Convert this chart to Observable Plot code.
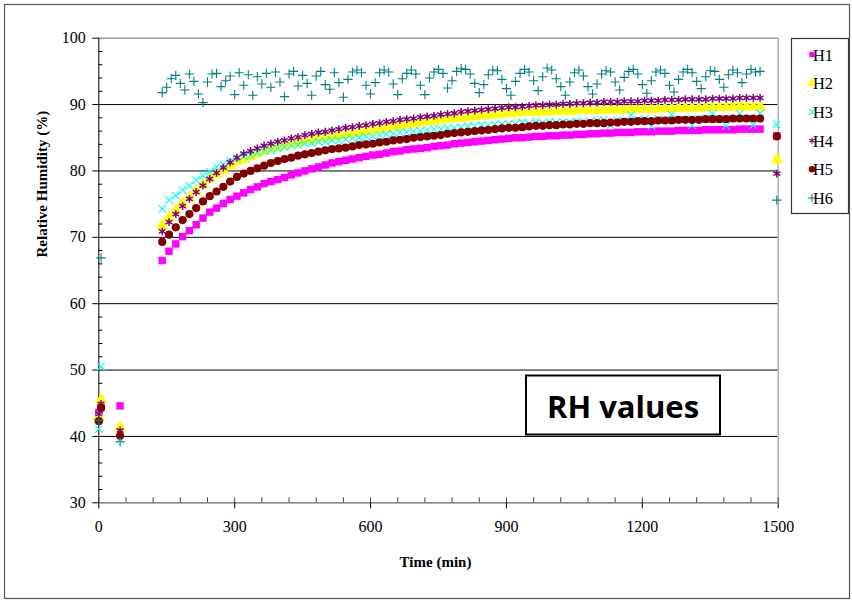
<!DOCTYPE html>
<html><head><meta charset="utf-8">
<script src="https://cdn.jsdelivr.net/npm/d3@7"></script>
<script src="https://cdn.jsdelivr.net/npm/@observablehq/plot@0.6"></script>
<style>body{margin:0;background:#fff}#chart{width:852px;height:603px}</style>
</head><body><div id="chart"></div>
<script>
const seriesNames = ["H1","H2","H3","H4","H5","H6"];
const seriesColors = ["#FF00FF","#FFFF00","#00FFFF","#800080","#800000","#008080"];
const seriesSymbols = ["square","triangle","times","asterisk","circle","plus"];

const yTicks = [30,40,50,60,70,80,90,100];
const yMinor = [32,34,36,38,42,44,46,48,52,54,56,58,62,64,66,68,72,74,76,78,82,84,86,88,92,94,96,98];
const gridVals = [40,50,60,70,80,90];
const xTicks = [0,300,600,900,1200,1500];
const xMinor = [0,60,120,180,240,300,360,420,480,540,600,660,720,780,840,900,960,1020,1080,1140,1200,1260,1320,1380,1440,1500];

// early readings
const earlyTimes = [0,5,47];
const earlyH1 = [43.6,44.4,44.6];
const earlyH2 = [43.0,45.5,41.4];
const earlyH3 = [41.1,50.5,39.6];
const earlyH4 = [43.4,44.9,40.9];
const earlyH5 = [42.3,44.3,40.1];
const earlyH6 = [42.4,66.9,39.2];
// final reading
const lateTime = 1497;
const lateValues = [85.3,81.7,87.0,79.6,85.2,75.6];

const times15 = [140,155,170,185,200,215,230,245,260,275,
290,305,320,335,350,365,380,395,410,425,
440,455,470,485,500,515,530,545,560,575,
590,605,620,635,650,665,680,695,710,725,
740,755,770,785,800,815,830,845,860,875,
890,905,920,935,950,965,980,995,1010,1025,
1040,1055,1070,1085,1100,1115,1130,1145,1160,1175,
1190,1205,1220,1235,1250,1265,1280,1295,1310,1325,
1340,1355,1370,1385,1400,1415,1430,1445,1460];

const H1 = [66.5,67.9,69.0,70.1,71.0,71.9,72.9,73.8,74.4,75.1,
75.7,76.2,76.7,77.2,77.6,78.1,78.4,78.7,79.0,79.4,
79.7,80.0,80.3,80.6,80.9,81.2,81.4,81.6,81.8,82.0,
82.2,82.4,82.5,82.7,82.9,83.0,83.2,83.3,83.4,83.5,
83.7,83.8,83.9,84.1,84.2,84.3,84.4,84.5,84.6,84.7,
84.8,84.9,85.0,85.0,85.1,85.2,85.2,85.3,85.3,85.4,
85.4,85.5,85.5,85.6,85.6,85.7,85.7,85.8,85.8,85.8,
85.9,85.9,85.9,86.0,86.0,86.0,86.1,86.1,86.1,86.1,
86.2,86.2,86.2,86.2,86.2,86.3,86.3,86.3,86.3];
const H2 = [71.8,73.0,74.0,75.1,76.0,76.9,77.9,78.8,79.5,80.1,
80.8,81.4,81.8,82.2,82.6,83.0,83.3,83.6,83.8,84.1,
84.3,84.5,84.7,84.9,85.0,85.2,85.3,85.4,85.6,85.8,
86.0,86.1,86.3,86.5,86.7,86.8,87.0,87.1,87.3,87.4,
87.5,87.7,87.8,87.9,88.0,88.1,88.2,88.3,88.4,88.5,
88.6,88.7,88.7,88.8,88.8,88.9,88.9,88.9,89.0,89.0,
89.0,89.1,89.1,89.1,89.1,89.2,89.2,89.2,89.2,89.3,
89.3,89.3,89.3,89.4,89.4,89.4,89.5,89.5,89.5,89.5,
89.6,89.6,89.6,89.6,89.7,89.7,89.7,89.7,89.7];
const H3 = [74.3,75.6,76.3,77.1,77.8,78.6,79.3,79.9,80.6,81.0,
81.5,81.9,82.2,82.4,82.8,83.0,83.1,83.4,83.6,83.8,
83.9,84.1,84.2,84.4,84.4,84.6,84.6,84.8,84.9,85.0,
85.2,85.2,85.4,85.5,85.6,85.8,85.8,86.0,86.0,86.2,
86.3,86.3,86.5,86.5,86.6,86.7,86.7,86.9,86.8,87.0,
87.0,87.1,87.1,87.3,87.1,87.3,87.2,87.4,87.3,87.4,
87.3,87.5,87.4,87.5,87.5,87.7,86.9,87.6,87.5,88.4,
87.6,87.8,86.8,87.8,87.7,88.5,87.7,87.8,86.9,87.9,
87.8,88.6,87.8,86.8,87.8,88.6,87.9,86.9,88.7];
const H4 = [70.9,72.3,73.5,74.7,75.8,76.8,77.8,78.8,79.7,80.5,
81.3,82.0,82.6,83.0,83.4,83.8,84.1,84.4,84.6,84.9,
85.1,85.4,85.6,85.8,85.9,86.1,86.3,86.5,86.6,86.8,
86.9,87.1,87.2,87.4,87.5,87.7,87.8,87.9,88.1,88.2,
88.3,88.5,88.6,88.7,88.9,89.0,89.1,89.2,89.3,89.4,
89.5,89.6,89.6,89.7,89.8,89.9,89.9,90.0,90.0,90.1,
90.1,90.2,90.2,90.3,90.3,90.4,90.4,90.4,90.5,90.5,
90.5,90.6,90.6,90.6,90.7,90.7,90.7,90.8,90.8,90.8,
90.8,90.9,90.9,90.9,90.9,91.0,91.0,91.0,91.0];
const H5 = [69.3,70.4,71.5,72.6,73.5,74.4,75.4,76.2,76.9,77.6,
78.4,79.1,79.6,80.0,80.4,80.8,81.2,81.5,81.8,82.0,
82.3,82.5,82.7,82.9,83.1,83.3,83.4,83.5,83.7,83.9,
84.0,84.1,84.3,84.4,84.6,84.7,84.8,85.0,85.1,85.2,
85.3,85.4,85.6,85.7,85.8,85.9,86.0,86.1,86.2,86.3,
86.4,86.5,86.5,86.6,86.7,86.8,86.8,86.9,86.9,87.0,
87.0,87.1,87.1,87.2,87.2,87.2,87.3,87.3,87.4,87.4,
87.5,87.5,87.5,87.6,87.6,87.6,87.7,87.7,87.7,87.7,
87.8,87.8,87.8,87.8,87.9,87.9,87.9,87.9,87.9];

const times10 = [140,150,160,170,180,190,200,210,220,230,
240,250,260,270,280,290,300,310,320,330,
340,350,360,370,380,390,400,410,420,430,
440,450,460,470,480,490,500,510,520,530,
540,550,560,570,580,590,600,610,620,630,
640,650,660,670,680,690,700,710,720,730,
740,750,760,770,780,790,800,810,820,830,
840,850,860,870,880,890,900,910,920,930,
940,950,960,970,980,990,1000,1010,1020,1030,
1040,1050,1060,1070,1080,1090,1100,1110,1120,1130,
1140,1150,1160,1170,1180,1190,1200,1210,1220,1230,
1240,1250,1260,1270,1280,1290,1300,1310,1320,1330,
1340,1350,1360,1370,1380,1390,1400,1410,1420,1430,
1440,1450,1460];
const H6 = [91.8,92.6,93.9,94.4,93.2,92.2,94.6,93.5,91.6,90.3,
93.4,94.6,94.7,92.7,93.6,94.3,91.5,94.8,92.9,94.5,
91.4,94.2,93.1,94.7,92.6,94.9,93.4,91.2,94.6,95.0,
92.8,94.4,93.2,91.4,94.3,95.0,93.0,92.3,94.8,93.3,
91.1,93.8,94.9,95.2,94.8,92.9,91.6,93.3,94.8,95.2,
94.9,93.1,91.5,93.9,94.7,95.2,94.6,92.9,91.5,94.0,
94.9,95.3,94.7,92.5,93.6,95.0,95.4,95.3,94.6,93.2,
91.8,93.0,94.5,95.2,95.1,93.8,92.4,91.4,93.5,94.7,
95.3,94.9,93.6,92.1,94.2,95.5,95.2,93.9,92.7,91.4,
93.4,94.8,95.2,94.3,92.7,91.6,93.1,94.6,95.1,94.9,
93.4,92.2,94.1,95.0,95.3,94.6,93.0,91.7,93.6,94.9,
95.2,94.7,92.9,91.9,93.8,94.9,95.3,94.8,93.5,92.4,
94.2,95.1,95.0,93.8,92.6,94.5,95.2,94.8,93.3,94.6,
95.3,94.9,95.0];

function rows(times, vals) {
  const n = Math.min(times.length, vals.length);
  const out = [];
  for (let i = 0; i < n; i++) out.push({t: times[i], v: vals[i]});
  return out;
}
const mainTimes = [times15, times15, times15, times15, times15, times10];
const mainVals = [H1, H2, H3, H4, H5, H6];
const earlyVals = [earlyH1, earlyH2, earlyH3, earlyH4, earlyH5, earlyH6];
const sizes = [4.2, 4.6, 3.5, 3.7, 4.1, 3.1];
const strokeWidths = [0, 0, 1.1, 1.5, 0, 1.1];

const seriesData = seriesNames.map((name, i) =>
  rows(earlyTimes, earlyVals[i])
    .concat(rows(mainTimes[i], mainVals[i]))
    .concat([{t: lateTime, v: lateValues[i]}]));

const strokeSym = new Set(["times","asterisk","plus"]);
const dotMarks = seriesNames.map((name, i) => {
  const sym = seriesSymbols[i];
  const o = {x: "t", y: "v", symbol: sym, r: sizes[i]};
  if (strokeSym.has(sym)) { o.stroke = seriesColors[i]; o.fill = "none"; o.strokeWidth = strokeWidths[i]; }
  else { o.fill = seriesColors[i]; o.stroke = "none"; }
  return Plot.dot(seriesData[i], o);
});

const serif = "'Liberation Serif', 'DejaVu Serif', serif";
const plot = Plot.plot({
  width: 852, height: 603,
  marginLeft: 98.3, marginRight: 74.3, marginTop: 37.7, marginBottom: 100.7,
  style: {fontFamily: serif, fontSize: "16px", background: "#fff", color: "#000", overflow: "visible"},
  x: {domain: [0, 1500]},
  y: {domain: [30, 100]},
  marks: [
    Plot.ruleY(gridVals, {stroke: "#000", strokeWidth: 1}),
    Plot.ruleY([100], {stroke: "#9a9a9a", strokeWidth: 1.5}),
    Plot.ruleX([1500], {stroke: "#b0b0b0", strokeWidth: 1.5}),
    Plot.ruleY([30], {stroke: "#666", strokeWidth: 1.3}),
    Plot.ruleX([0], {stroke: "#000", strokeWidth: 1}),
    Plot.axisY(yTicks, {tickSize: 6, tickPadding: 7, fontSize: 16, label: null, tickFormat: d => String(d)}),
    Plot.axisY(yMinor, {tickSize: 4, dx: 4, fill: "none", label: null}),
    Plot.axisX(xMinor, {tickSize: 5, dy: -5, fill: "none", label: null, stroke: "#444"}),
    Plot.axisX(xTicks, {tickSize: 6, tickPadding: 12, fontSize: 16, label: null, tickFormat: d => String(d)}),
    Plot.text(["Time (min)"], {text: d => d, frameAnchor: "bottom", dy: 64, dx: -3, fontWeight: "bold", fontSize: 15, fontFamily: serif}),
    Plot.text(["Relative Humidity (%)"], {text: d => d, frameAnchor: "left", dx: -57, dy: -13, rotate: -90, fontWeight: "bold", fontSize: 15, fontFamily: serif}),
    ...dotMarks
  ]
});
document.getElementById("chart").appendChild(plot);

// Decorations: outer frame, annotation box, legend
const svg = d3.select(plot);
svg.insert("rect", ":first-child").attr("x", 4.5).attr("y", 4.5).attr("width", 845).attr("height", 594)
  .attr("fill", "none").attr("stroke", "#555").attr("stroke-width", 1.2);

const note = svg.append("g");
note.append("rect").attr("x", 526).attr("y", 375.5).attr("width", 194).attr("height", 59)
  .attr("fill", "#fff").attr("stroke", "#000").attr("stroke-width", 2);
note.append("text").attr("x", 623).attr("y", 406).attr("text-anchor", "middle").attr("dominant-baseline", "central")
  .attr("font-family", "'Open Sans', sans-serif").attr("font-weight", "bold").attr("font-size", 31)
  .attr("fill", "#000").text("RH values");

const leg = svg.append("g");
leg.append("rect").attr("x", 791.5).attr("y", 38.5).attr("width", 57).attr("height", 175)
  .attr("fill", "#fff").attr("stroke", "#333").attr("stroke-width", 1.2);
const d3sym = {square: d3.symbolSquare, triangle: d3.symbolTriangle, times: d3.symbolTimes,
  asterisk: d3.symbolAsterisk, circle: d3.symbolCircle, plus: d3.symbolPlus};
const legSizes = [3.0, 3.5, 2.9, 3.0, 3.3, 2.9];
seriesNames.forEach((name, i) => {
  const y = 54.5 + i * 28.7;
  const sym = seriesSymbols[i];
  const p = leg.append("path").attr("transform", `translate(812,${y})`)
    .attr("d", d3.symbol(d3sym[sym], Math.PI * legSizes[i] * legSizes[i])());
  if (strokeSym.has(sym)) p.attr("fill", "none").attr("stroke", seriesColors[i]).attr("stroke-width", 1.1);
  else p.attr("fill", seriesColors[i]);
  leg.append("text").attr("x", 823).attr("y", y + 6).attr("font-family", serif).attr("font-size", 17)
    .attr("textLength", 20).attr("lengthAdjust", "spacingAndGlyphs")
    .attr("fill", "#000").text(name);
});
</script>
</body></html>
